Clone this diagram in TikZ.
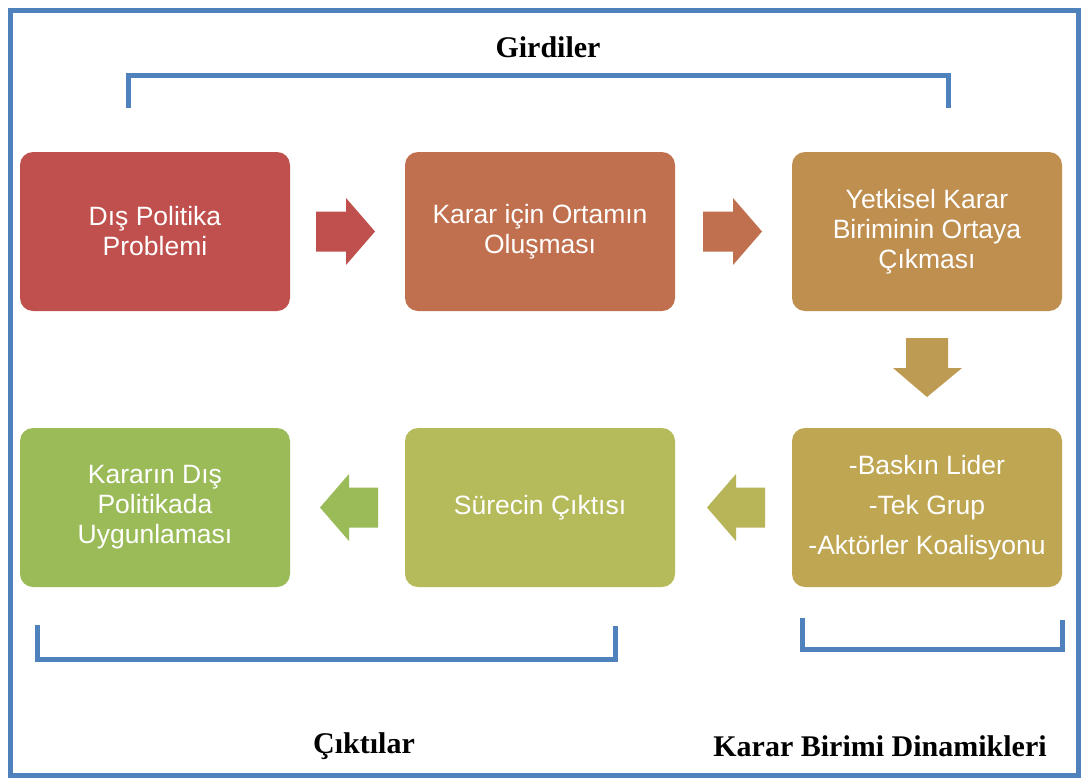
\documentclass[tikz,border=0pt]{standalone}
\usepackage{fontspec}
\setmainfont{Liberation Serif}
\newfontfamily\boxfont{Liberation Sans}
\definecolor{frameblue}{HTML}{4F81BD}
\definecolor{cA}{HTML}{C0504D}
\definecolor{cB}{HTML}{C0704E}
\definecolor{cC}{HTML}{BF8F50}
\definecolor{cD}{HTML}{BE9B52}
\definecolor{cE}{HTML}{BFA652}
\definecolor{cF}{HTML}{B5BA5A}
\definecolor{cG}{HTML}{9BBB59}
\begin{document}
\begin{tikzpicture}[x=1pt,y=-1pt,
  stepbox/.style={rounded corners=13pt, minimum width=270pt, minimum height=159pt,
    inner sep=0pt, align=center, text=white, font=\boxfont\fontsize{26.5}{30}\selectfont},
  bracket/.style={draw=frameblue, line width=5pt},
  titletext/.style={font=\fontsize{30}{32}\selectfont\bfseries, text=black, inner sep=0pt}]
\useasboundingbox (0,0) rectangle (1085,780);
\fill[white] (0,0) rectangle (1085,780);
\draw[frameblue, line width=5pt] (10.5,10) rectangle (1078,775);

% top bracket
\coordinate (t1) at (128,108);
\coordinate (t2) at (948,108);
\draw[bracket] (t1) -- (128,75) -- (948,75) -- (t2);
\node[titletext] (girdi) at (548,47) {Girdiler};

% boxes
\node[stepbox, fill=cA] (b1) at (155,231.5) {Dış Politika\\Problemi};
\node[stepbox, fill=cB] (b2) at (540,231.5) {Karar için Ortamın\\Oluşması};
\node[stepbox, fill=cC] (b3) at (927,231.5) {Yetkisel Karar\\Biriminin Ortaya\\Çıkması};
\node[stepbox, fill=cE] (b6) at (927,507.5) {-Baskın Lider\\[10pt]-Tek Grup\\[10pt]-Aktörler Koalisyonu};
\node[stepbox, fill=cF] (b5) at (540,507.5) {Sürecin Çıktısı};
\node[stepbox, fill=cG] (b4) at (155,507.5) {Kararın Dış\\Politikada\\Uygunlaması};

% block arrows
\fill[cA] (316,211.5) -- (346,211.5) -- (346,198) -- (375,231.5) -- (346,265) -- (346,251.5) -- (316,251.5) -- cycle;
\fill[cB] (703,211.5) -- (733,211.5) -- (733,198) -- (762,231.5) -- (733,265) -- (733,251.5) -- (703,251.5) -- cycle;
\fill[cD] (906,338) -- (948,338) -- (948,368) -- (962,368) -- (927,397) -- (893,368) -- (906,368) -- cycle;
\fill[cF!70!cE] (765,487.5) -- (736,487.5) -- (736,474) -- (707,507.5) -- (736,541) -- (736,527.5) -- (765,527.5) -- cycle;
\fill[cG] (378,487.5) -- (349,487.5) -- (349,474) -- (320,507.5) -- (349,541) -- (349,527.5) -- (378,527.5) -- cycle;

% bottom brackets
\coordinate (l1) at (37,625);
\coordinate (l2) at (615,626);
\draw[bracket] (l1) -- (37,659) -- (615,659) -- (l2);
\coordinate (r1) at (802,618);
\coordinate (r2) at (1062,620);
\draw[bracket] (r1) -- (802,649) -- (1062,649) -- (r2);

\node[titletext] (cikti) at (364,746) {Çıktılar};
\node[titletext] (dinamik) at (880,746) {Karar Birimi Dinamikleri};
\end{tikzpicture}
\end{document}
